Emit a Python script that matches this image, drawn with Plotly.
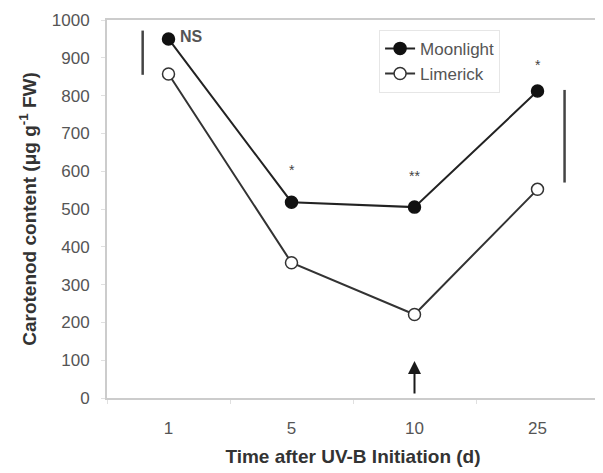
import plotly.graph_objects as go

days = ['1', '5', '10', '25']
moonlight = [950, 518, 505, 812]
limerick = [857, 358, 221, 552]

# significance marks above the points
sig_labels = ['NS', '*', '**', '*']
sig_y = [950, 603, 588, 882]

# LSD bars: (x offset in category units, low, high)
lsd_x = [-0.21, 3.22]
lsd_low = [855, 570]
lsd_high = [972, 815]

# arrow marking day 10
arrow_day = 2
arrow_from, arrow_to = 8, 98

fig = go.Figure()

fig.add_trace(go.Scatter(
    x=days, y=moonlight, name='Moonlight', mode='lines+markers',
    line=dict(color='#222222', width=2),
    marker=dict(symbol='circle', size=12, color='#111111',
                line=dict(color='#111111', width=1.5))
))
fig.add_trace(go.Scatter(
    x=days, y=limerick, name='Limerick', mode='lines+markers',
    line=dict(color='#333333', width=2),
    marker=dict(symbol='circle', size=12, color='white',
                line=dict(color='#333333', width=1.5))
))

for xv, lo, hi in zip(lsd_x, lsd_low, lsd_high):
    fig.add_shape(type='line', xref='x', yref='y', x0=xv, x1=xv, y0=lo, y1=hi,
                  line=dict(color='#444444', width=2.5))

for i, (lab, yv) in enumerate(zip(sig_labels, sig_y)):
    if lab == 'NS':
        fig.add_annotation(x=i, y=yv, text='<b>' + lab + '</b>', showarrow=False,
                           xanchor='left', xshift=9, yshift=2,
                           font=dict(size=16, color='#555555'))
    else:
        fig.add_annotation(x=i, y=yv, text=lab, showarrow=False,
                           font=dict(size=14, color='#444444'))

fig.add_annotation(x=arrow_day, y=arrow_to, ax=arrow_day, ay=arrow_from,
                   xref='x', yref='y', axref='x', ayref='y',
                   text='', showarrow=True, arrowhead=2, arrowsize=1.3,
                   arrowwidth=2, arrowcolor='#1a1a1a')

fig.update_layout(
    width=595, height=465,
    margin=dict(l=99, r=2, t=12, b=75),
    paper_bgcolor='white', plot_bgcolor='white',
    font=dict(family='Liberation Sans, Arial, sans-serif', color='#555555', size=17),
    showlegend=True,
    legend=dict(x=0.553, y=0.974, xanchor='left', yanchor='top',
                bgcolor='white', bordercolor='#e6e6e6', borderwidth=1,
                font=dict(size=17, color='#555555'), tracegroupgap=0,
                itemwidth=30),
    xaxis=dict(
        type='category', range=[-0.5, 3.5],
        showline=True, linecolor='#cccccc', linewidth=2, mirror=True,
        ticks='outside', tickson='boundaries', ticklen=4, tickcolor='#e0e0e0',
        ticklabelstandoff=14,
        showgrid=False, zeroline=False,
        tickfont=dict(size=17, color='#555555'),
        title=dict(text='<b>Time after UV-B Initiation (d)</b>', standoff=12,
                   font=dict(size=19, color='#333333'))
    ),
    yaxis=dict(
        range=[0, 1000], dtick=100,
        showline=True, linecolor='#cccccc', linewidth=2, mirror=True,
        ticks='outside', ticklen=4, tickcolor='#e0e0e0',
        ticklabelstandoff=8,
        showgrid=False, zeroline=False,
        tickfont=dict(size=17, color='#555555'),
        title=dict(text='<b>Carotenod content (μg g<sup>-1</sup> FW)</b>', standoff=10,
                   font=dict(size=19, color='#333333'))
    ),
)

fig.write_html("out.html")
